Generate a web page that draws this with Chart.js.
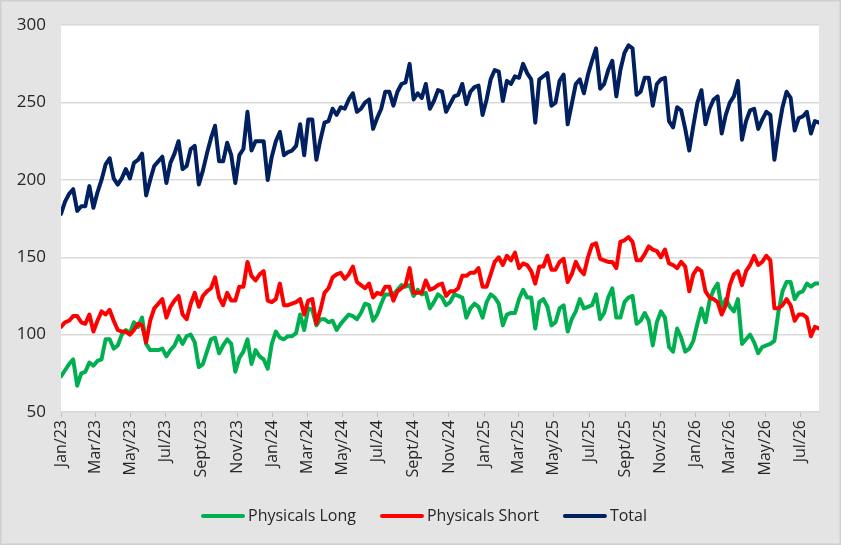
<!DOCTYPE html>
<html>
<head>
<meta charset="utf-8">
<script src="https://cdn.jsdelivr.net/npm/chart.js@4.4.1/dist/chart.umd.min.js"></script>
<style>
html,body{margin:0;padding:0;background:#e4e4e4;}
#wrap{width:841px;height:545px;position:relative;}
canvas{display:block;}
</style>
</head>
<body>
<div id="wrap"><canvas id="c" width="841" height="545"></canvas></div>
<script>
// ---- data (weekly observations, first week starting 2023-01-01) ----
const seriesNames = ['Physicals Long', 'Physicals Short', 'Total'];
const firstWeek = '2023-01-01';

const longPositions = [
  73,77,81,84,67,75,76,82,80,83,84,97,97,91,93,100,103,101,108,105,111,94,90,90,90,91,86,90,93,99,94,
  99,100,95,79,81,89,97,98,88,93,97,94,76,85,89,97,81,90,86,84,78,94,102,98,97,99,99,101,113,103,117,
  116,106,110,110,108,109,103,107,110,113,112,110,114,120,119,109,113,120,126,126,126,129,132,131,132,125,129,126,127,117,121,126,
  124,119,121,126,125,124,111,117,120,118,111,121,126,124,120,106,113,114,114,123,129,124,124,104,121,123,118,106,108,117,119,
  102,110,115,123,117,118,119,126,110,114,124,130,111,111,121,124,125,107,109,114,109,93,108,115,111,92,89,104,98,89,91,
  96,107,117,108,122,129,133,117,123,118,115,123,94,97,100,95,88,92,93,94,96,115,128,134,134,123,127,128,133,131,133,133
];
const shortPositions = [
  105,108,109,112,112,108,107,113,102,109,115,113,116,109,103,102,102,100,103,107,106,95,109,117,120,123,111,118,122,125,113,
  110,120,127,118,125,128,130,137,124,119,127,122,122,131,131,147,138,135,139,141,122,121,123,133,119,119,120,121,123,113,122,
  123,107,116,127,130,137,139,140,136,139,144,134,132,130,133,124,127,126,131,131,122,128,130,132,143,127,127,127,135,129,130,132,
  133,125,128,128,130,138,138,140,140,143,131,131,139,147,150,145,151,148,153,143,146,145,141,133,144,144,151,142,142,147,149,
  134,139,147,142,139,150,158,159,149,148,147,147,143,160,161,163,160,148,148,152,157,155,154,150,155,146,145,143,147,144,128,
  139,143,141,128,124,123,121,113,119,132,139,141,132,141,145,151,145,147,151,148,117,117,119,123,119,109,113,113,111,99,105,104
];
const totalPositions = [
  178,186,191,194,180,183,183,196,182,192,200,210,214,201,197,201,207,201,211,213,217,190,200,209,212,215,198,211,217,225,207,
  209,220,222,197,206,217,227,235,212,212,224,216,198,216,220,244,219,225,225,225,200,215,225,231,216,218,219,222,236,216,239,
  239,213,226,237,238,246,242,247,246,252,256,244,246,250,252,233,240,246,257,257,248,257,262,263,275,252,256,253,262,246,251,258,
  257,244,249,254,255,262,249,257,260,261,242,252,265,271,270,251,264,262,267,266,275,269,265,237,265,267,269,248,250,264,268,
  236,249,262,265,256,268,277,285,259,262,271,277,254,271,282,287,285,255,257,266,266,248,262,265,266,238,234,247,245,233,219,
  235,250,258,236,246,252,254,230,242,250,254,264,226,238,245,246,233,239,244,242,213,232,247,257,253,232,240,241,244,230,238,237
];

const tickLabels = ['Jan/23','Mar/23','May/23','Jul/23','Sept/23','Nov/23',
                    'Jan/24','Mar/24','May/24','Jul/24','Sept/24','Nov/24',
                    'Jan/25','Mar/25','May/25','Jul/25','Sept/25','Nov/25',
                    'Jan/26','Mar/26','May/26','Jul/26'];
const tickMonths = ['2023-01','2023-03','2023-05','2023-07','2023-09','2023-11',
                    '2024-01','2024-03','2024-05','2024-07','2024-09','2024-11',
                    '2025-01','2025-03','2025-05','2025-07','2025-09','2025-11',
                    '2026-01','2026-03','2026-05','2026-07'];
const yTicks = [50, 100, 150, 200, 250, 300];

// ---- helpers ----
const DAY = 86400000;
const start = Date.parse(firstWeek + 'T00:00:00Z');
const dayOf = s => (Date.parse(s + 'T00:00:00Z') - start) / DAY;
const tickDays = tickMonths.map(m => dayOf(m + '-01'));
const toPoints = arr => arr.map((v, i) => ({ x: i * 7, y: v }));
const lastDay = (longPositions.length - 1) * 7;

const colors = ['#00B050', '#FF0000', '#002060'];
const seriesData = [longPositions, shortPositions, totalPositions];

const FONT = '"Open Sans", "Liberation Sans", Arial, sans-serif';
const TEXT = '#262626';

const bgPlugin = {
  id: 'bg',
  beforeDraw(chart) {
    const { ctx, chartArea: a } = chart;
    ctx.save();
    ctx.fillStyle = '#e4e4e4';
    ctx.fillRect(0, 0, chart.width, chart.height);
    ctx.fillStyle = '#ffffff';
    ctx.fillRect(a.left, a.top, a.right - a.left, a.bottom - a.top);
    ctx.strokeStyle = '#cfcfcf';
    ctx.lineWidth = 1.5;
    ctx.strokeRect(0.75, 0.75, chart.width - 1.5, chart.height - 1.5);
    ctx.restore();
  }
};

const legendPlugin = {
  id: 'lineLegend',
  afterDraw(chart) {
    const ctx = chart.ctx;
    ctx.save();
    ctx.font = '16px ' + FONT;
    const lineLen = 44, gap = 3, itemGap = 24;
    const items = chart.data.datasets.map(d => ({
      label: d.label, color: d.borderColor, w: ctx.measureText(d.label).width
    }));
    const total = items.reduce((s, it) => s + lineLen + gap + it.w, 0) + itemGap * (items.length - 1);
    let x = 424 - total / 2;
    const y = 516;
    items.forEach(it => {
      ctx.strokeStyle = it.color;
      ctx.lineWidth = 4;
      ctx.lineCap = 'round';
      ctx.beginPath();
      ctx.moveTo(x + 2, y);
      ctx.lineTo(x + lineLen - 2, y);
      ctx.stroke();
      x += lineLen + gap;
      ctx.fillStyle = TEXT;
      ctx.textBaseline = 'middle';
      ctx.textAlign = 'left';
      ctx.fillText(it.label, x, y + 0.5);
      x += it.w + itemGap;
    });
    ctx.restore();
  }
};

new Chart(document.getElementById('c'), {
  type: 'line',
  data: {
    datasets: seriesNames.map((name, i) => ({
      label: name,
      data: toPoints(seriesData[i]),
      borderColor: colors[i],
      backgroundColor: colors[i],
      borderWidth: 4,
      pointRadius: 0,
      pointHoverRadius: 0,
      tension: 0,
      fill: false,
      borderJoinStyle: 'round',
      borderCapStyle: 'round',
      order: 3 - i
    }))
  },
  options: {
    responsive: false,
    animation: false,
    devicePixelRatio: 1,
    layout: { padding: { top: 21, right: 22, bottom: 53, left: 0 } },
    plugins: { legend: { display: false }, tooltip: { enabled: false } },
    scales: {
      x: {
        type: 'linear',
        min: 0,
        max: lastDay,
        afterBuildTicks(scale) { scale.ticks = tickDays.map(v => ({ value: v })); },
        afterFit(scale) { scale.height = 80; },
        ticks: {
          autoSkip: false,
          minRotation: 90,
          maxRotation: 90,
          padding: 3,
          color: TEXT,
          font: { family: FONT, size: 16 },
          callback: (v, i) => tickLabels[i]
        },
        grid: { display: true, drawOnChartArea: false, drawTicks: true, tickLength: 5, color: '#bfbfbf', lineWidth: 1 },
        border: { display: true, color: '#d9d9d9', width: 1.5 }
      },
      y: {
        min: 50,
        max: 300,
        afterBuildTicks(scale) { scale.ticks = yTicks.map(v => ({ value: v })); },
        afterFit(scale) { scale.width = 61; },
        ticks: {
          padding: 15,
          color: TEXT,
          font: { family: FONT, size: 17 }
        },
        grid: { color: '#d9d9d9', lineWidth: 1.5, drawTicks: false },
        border: { display: false }
      }
    }
  },
  plugins: [bgPlugin, legendPlugin]
});
</script>
</body>
</html>
